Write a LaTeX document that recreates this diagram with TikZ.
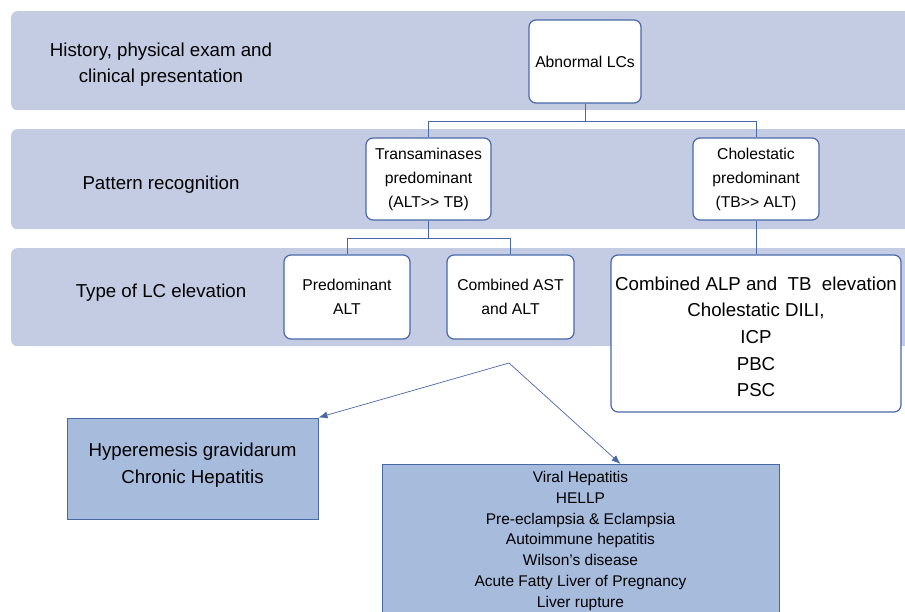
\documentclass[tikz,border=0pt]{standalone}
\usepackage{fontspec}
\setmainfont{Liberation Sans}
\usetikzlibrary{positioning,arrows.meta}
\definecolor{bandfill}{HTML}{C3CCE3}
\definecolor{lcblue}{HTML}{4868A8}
\definecolor{boxfill}{HTML}{A7BBDD}
\tikzset{
band/.style      = {shape=rectangle, rounded corners=6pt, fill=bandfill,
                    anchor=north west, minimum width=904pt, inner sep=0pt},
bandlabel/.style = {align=center, font=\fontsize{18.7}{26}\selectfont},
lcnode/.style    = {shape=rectangle, rounded corners=7pt, draw=lcblue,
                    line width=1.2pt, fill=white, align=center, inner sep=0pt,
                    font=\fontsize{15.7}{24}\selectfont},
bignode/.style   = {lcnode, font=\fontsize{18.7}{26.7}\selectfont},
listbox/.style   = {shape=rectangle, draw=lcblue, line width=1pt,
                    fill=boxfill, align=center, inner sep=0pt},
conn/.style      = {draw=lcblue, line width=1pt},
arr/.style       = {draw=lcblue, line width=0.7pt, -{Latex[length=9pt,width=7pt]}}
}

\begin{document}
\begin{tikzpicture}[x=1pt,y=-1pt]
\clip (0,0) rectangle (905,612);

% bands
\node[band, minimum height=99pt]  (band1) at (11,11)  {};
\node[band, minimum height=100pt] (band2) at (11,129) {};
\node[band, minimum height=98pt]  (band3) at (11,248) {};

\node[bandlabel] (hist)    at (161,65)    {History, physical exam and\\clinical presentation};
\node[bandlabel] (pattern) at (161,185)   {Pattern recognition};
\node[bandlabel] (type)    at (161,292.5) {Type of LC elevation};

% tree
\node[lcnode, minimum width=112pt, minimum height=83pt] (abn)   at (585,61.5)  {Abnormal LCs};
\node[lcnode, minimum width=125pt, minimum height=82pt] (trans) at (428.5,179) {Transaminases\\predominant\\(ALT>{}> TB)};
\node[lcnode, minimum width=126pt, minimum height=82pt] (chol)  at (756,179)   {Cholestatic\\predominant\\(TB>{}> ALT)};
\node[lcnode, minimum width=126pt, minimum height=84pt] (predalt) at (347,297) {Predominant\\ALT};
\node[lcnode, minimum width=127pt, minimum height=84pt] (combalt) at (510.5,297) {Combined AST\\and ALT};
\node[bignode, minimum width=290pt, minimum height=157pt] (cholbox) at (756,333.5)
  {\rule{0pt}{20pt}Combined ALP and\ \ TB\ \ elevation\\Cholestatic DILI,\\ICP\\PBC\\PSC};

\draw[conn] (abn.south) -- ++(0,18) -| (trans.north);
\draw[conn] (abn.south) -- ++(0,18) -| (chol.north);
\draw[conn] (trans.south) -- ++(0,18) -| (predalt.north);
\draw[conn] (trans.south) -- ++(0,18) -| (combalt.north);
\draw[conn] (chol.south) -- (cholbox.north);

% outcomes
\node[listbox, minimum width=251pt, minimum height=101pt,
      font=\fontsize{18.7}{27}\selectfont] (hyper) at (192.5,468.5)
  {Hyperemesis gravidarum\\Chronic Hepatitis\\[-16pt]\mbox{}};
\node[listbox, minimum width=397pt, anchor=north, inner ysep=6.5pt,
      font=\fontsize{15.5}{20.9}\selectfont] (viral) at (580.5,464)
  {Viral Hepatitis\\HELLP\\Pre-eclampsia \& Eclampsia\\Autoimmune hepatitis\\
   Wilson’s disease\\Acute Fatty Liver of Pregnancy\\Liver rupture};

\coordinate (split) at (509,363);
\draw[arr] (split) -- (hyper.north east);
\draw[arr] (split) -- ([xshift=40pt]viral.north);
\end{tikzpicture}
\end{document}
